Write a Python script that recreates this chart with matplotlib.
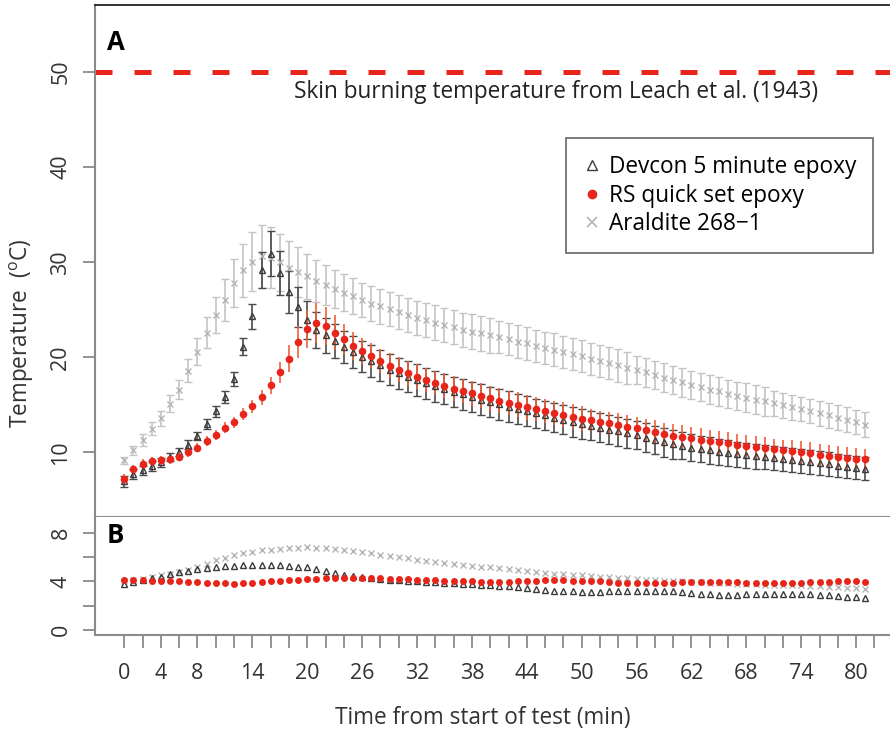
import numpy as np
import matplotlib
matplotlib.use("Agg")
import matplotlib.pyplot as plt
from matplotlib.lines import Line2D

plt.rcParams['font.family'] = ['Open Sans', 'DejaVu Sans']
plt.rcParams['mathtext.fontset'] = 'custom'
plt.rcParams['mathtext.rm'] = 'Open Sans'

# time from start of test (min), one reading per minute
minutes = list(range(0, 82))

# panel A: mean temperature (deg C)
devcon_mean = [6.95, 7.75, 8.1, 8.55, 8.95, 9.5, 10.05, 10.8, 11.7, 13.0,
               14.3, 15.8, 17.7, 21.1, 24.3, 29.2, 30.9, 28.9, 26.9, 25.3,
               23.9, 22.9, 22.3, 21.7, 21.1, 20.55, 20.05, 19.6, 19.15, 18.7,
               18.3, 17.95, 17.6, 17.25, 16.95, 16.65, 16.35, 16.1, 15.8, 15.55,
               15.3, 15.05, 14.8, 14.55, 14.35, 14.1, 13.9, 13.65, 13.45, 13.2,
               13.0, 12.8, 12.6, 12.4, 12.2, 12.0, 11.8, 11.55, 11.3, 11.05,
               10.85, 10.7, 10.5, 10.35, 10.2, 10.05, 9.95, 9.8, 9.7, 9.6,
               9.5, 9.4, 9.3, 9.2, 9.1, 9.0, 8.85, 8.75, 8.6, 8.5,
               8.4, 8.3]
rs_mean = [7.2, 8.2, 8.75, 9.05, 9.15, 9.3, 9.55, 10.0, 10.5, 11.2,
           11.85, 12.6, 13.15, 14.05, 14.85, 15.8, 17.05, 18.4, 19.85, 21.6,
           23.0, 23.6, 23.3, 22.6, 21.9, 21.2, 20.65, 20.15, 19.6, 19.1,
           18.7, 18.3, 17.95, 17.6, 17.3, 17.0, 16.7, 16.45, 16.2, 15.95,
           15.7, 15.45, 15.2, 15.0, 14.75, 14.55, 14.35, 14.15, 13.95, 13.75,
           13.55, 13.4, 13.2, 13.05, 12.9, 12.7, 12.55, 12.35, 12.15, 11.9,
           11.75, 11.65, 11.5, 11.35, 11.2, 11.05, 10.95, 10.8, 10.65, 10.55,
           10.45, 10.3, 10.2, 10.1, 10.0, 9.9, 9.75, 9.65, 9.55, 9.45,
           9.35, 9.25]
araldite_mean = [9.15, 10.2, 11.3, 12.5, 13.6, 15.1, 16.6, 18.6, 20.6, 22.6,
                 24.4, 26.05, 27.8, 29.15, 30.05, 30.6, 30.45, 30.0, 29.4, 28.95,
                 28.5, 28.05, 27.6, 27.2, 26.8, 26.4, 26.0, 25.65, 25.35, 25.05,
                 24.75, 24.45, 24.15, 23.9, 23.65, 23.4, 23.15, 22.9, 22.7, 22.5,
                 22.3, 22.1, 21.9, 21.65, 21.45, 21.2, 21.0, 20.8, 20.55, 20.35,
                 20.1, 19.85, 19.6, 19.4, 19.15, 18.9, 18.65, 18.4, 18.15, 17.85,
                 17.6, 17.35, 17.1, 16.85, 16.6, 16.4, 16.15, 15.95, 15.75, 15.55,
                 15.35, 15.15, 14.95, 14.75, 14.55, 14.35, 14.1, 13.9, 13.65, 13.45,
                 13.2, 12.9]

# panel A: error bar half widths (deg C)
devcon_err = [0.6, 0.55, 0.5, 0.5, 0.45, 0.45, 0.45, 0.45, 0.45, 0.5,
              0.55, 0.6, 0.7, 0.9, 1.3, 1.9, 2.4, 2.3, 2.2, 2.1,
              2.0, 1.9, 1.8, 1.75, 1.7, 1.65, 1.65, 1.65, 1.65, 1.65,
              1.65, 1.65, 1.65, 1.65, 1.65, 1.6, 1.6, 1.6, 1.6, 1.6,
              1.6, 1.6, 1.6, 1.6, 1.6, 1.55, 1.55, 1.55, 1.55, 1.55,
              1.55, 1.55, 1.55, 1.55, 1.55, 1.5, 1.5, 1.5, 1.5, 1.5,
              1.5, 1.4, 1.4, 1.4, 1.4, 1.4, 1.4, 1.3, 1.3, 1.3,
              1.3, 1.3, 1.3, 1.25, 1.25, 1.25, 1.25, 1.25, 1.2, 1.2,
              1.2, 1.2]
rs_err = [0.5, 0.5, 0.5, 0.5, 0.5, 0.5, 0.5, 0.5, 0.5, 0.5,
          0.5, 0.55, 0.6, 0.65, 0.7, 0.8, 0.9, 1.1, 1.4, 1.7,
          2.0, 2.1, 2.0, 1.8, 1.6, 1.5, 1.4, 1.3, 1.3, 1.3,
          1.3, 1.3, 1.3, 1.3, 1.3, 1.3, 1.3, 1.3, 1.3, 1.3,
          1.3, 1.3, 1.3, 1.3, 1.3, 1.3, 1.3, 1.3, 1.3, 1.3,
          1.3, 1.2, 1.2, 1.2, 1.2, 1.2, 1.2, 1.2, 1.2, 1.2,
          1.2, 1.2, 1.2, 1.2, 1.2, 1.2, 1.15, 1.15, 1.15, 1.15,
          1.15, 1.15, 1.15, 1.15, 1.15, 1.15, 1.15, 1.15, 1.15, 1.15,
          1.15, 1.15]
araldite_err = [0.4, 0.5, 0.6, 0.7, 0.8, 0.9, 1.0, 1.2, 1.4, 1.6,
                1.9, 2.2, 2.5, 2.8, 3.1, 3.3, 3.2, 3.0, 2.8, 2.6,
                2.4, 2.2, 2.1, 2.0, 1.95, 1.9, 1.8, 1.8, 1.8, 1.8,
                1.8, 1.8, 1.8, 1.8, 1.8, 1.8, 1.8, 1.8, 1.8, 1.8,
                1.8, 1.7, 1.7, 1.7, 1.7, 1.7, 1.7, 1.7, 1.7, 1.7,
                1.7, 1.7, 1.7, 1.7, 1.7, 1.7, 1.5, 1.5, 1.5, 1.5,
                1.5, 1.5, 1.5, 1.5, 1.5, 1.5, 1.5, 1.5, 1.5, 1.5,
                1.5, 1.3, 1.3, 1.3, 1.3, 1.3, 1.3, 1.3, 1.3, 1.3,
                1.3, 1.3]

# panel B values
devcon_b = [3.8, 3.95, 4.1, 4.25, 4.4, 4.58, 4.75, 4.88, 5.0, 5.1,
            5.2, 5.25, 5.3, 5.33, 5.35, 5.35, 5.35, 5.33, 5.3, 5.23,
            5.15, 5.0, 4.85, 4.7, 4.55, 4.45, 4.35, 4.28, 4.2, 4.15,
            4.1, 4.05, 4.0, 3.98, 3.95, 3.9, 3.85, 3.82, 3.8, 3.75,
            3.7, 3.65, 3.6, 3.52, 3.45, 3.38, 3.3, 3.25, 3.2, 3.18,
            3.15, 3.15, 3.15, 3.18, 3.2, 3.22, 3.25, 3.25, 3.25, 3.22,
            3.2, 3.12, 3.05, 3.0, 2.95, 2.92, 2.9, 2.92, 2.95, 2.98,
            3.0, 3.0, 3.0, 3.0, 3.0, 2.95, 2.9, 2.85, 2.8, 2.75,
            2.7, 2.65]
rs_b = [4.1, 4.1, 4.1, 4.08, 4.05, 4.02, 4.0, 3.98, 3.95, 3.9,
        3.85, 3.84, 3.83, 3.86, 3.9, 3.95, 4.0, 4.05, 4.1, 4.15,
        4.2, 4.22, 4.25, 4.25, 4.25, 4.25, 4.25, 4.25, 4.25, 4.22,
        4.2, 4.18, 4.15, 4.12, 4.1, 4.08, 4.05, 4.02, 4.0, 3.98,
        3.95, 3.96, 3.98, 4.02, 4.05, 4.08, 4.1, 4.1, 4.1, 4.08,
        4.05, 4.02, 4.0, 3.95, 3.9, 3.88, 3.85, 3.85, 3.85, 3.88,
        3.9, 3.92, 3.95, 3.95, 3.95, 3.95, 3.95, 3.92, 3.9, 3.89,
        3.88, 3.88, 3.88, 3.89, 3.9, 3.92, 3.95, 3.98, 4.0, 4.0,
        4.0, 3.98]
araldite_b = [4.0, 4.1, 4.2, 4.35, 4.5, 4.6, 4.75, 4.95, 5.2, 5.45,
              5.75, 5.95, 6.15, 6.3, 6.45, 6.55, 6.6, 6.7, 6.75, 6.78,
              6.8, 6.78, 6.75, 6.68, 6.6, 6.5, 6.4, 6.3, 6.2, 6.1,
              6.0, 5.9, 5.8, 5.7, 5.6, 5.52, 5.45, 5.38, 5.3, 5.22,
              5.15, 5.08, 5.0, 4.92, 4.85, 4.78, 4.7, 4.65, 4.6, 4.55,
              4.5, 4.45, 4.4, 4.35, 4.3, 4.25, 4.2, 4.15, 4.1, 4.08,
              4.05, 4.0, 3.95, 3.92, 3.9, 3.88, 3.85, 3.82, 3.8, 3.78,
              3.75, 3.72, 3.7, 3.7, 3.7, 3.65, 3.6, 3.58, 3.55, 3.5,
              3.45, 3.4]

skin_burn = 50
series_names = ["Devcon 5 minute epoxy", "RS quick set epoxy", "Araldite 268\u22121"]
xtick_labels = [0, 4, 8, 14, 20, 26, 32, 38, 44, 50, 56, 62, 68, 74, 80]

dark = '#3a3a3a'
red = '#e8251b'
red_bar = '#f0603a'
grey = '#b4b4b4'
grey_bar = '#c4c4c4'
axis_grey = '#8a8a8a'
fs = 16.3
tick_fs = 15.5

fig = plt.figure(figsize=(8.9, 7.35), dpi=100)
ax_a = fig.add_axes([95/890, 1-517/735, 795/890, 512/735])
ax_b = fig.add_axes([95/890, 1-635/735, 795/890, 118/735], sharex=ax_a)

# panel A
ax_a.errorbar(minutes, araldite_mean, yerr=araldite_err, fmt='x', ms=5, mew=1,
              color=grey, ecolor=grey_bar, elinewidth=1.2, capsize=3, capthick=1.2)
ax_a.errorbar(minutes, devcon_mean, yerr=devcon_err, fmt='^', ms=5, mew=1, mfc='none',
              color=dark, ecolor='#4a4a4a', elinewidth=1.2, capsize=3, capthick=1.2)
ax_a.errorbar(minutes, rs_mean, yerr=rs_err, fmt='o', ms=5.5, mew=0,
              color=red, ecolor=red_bar, elinewidth=1.2, capsize=3, capthick=1.2)
ax_a.axhline(skin_burn, color=red, lw=3.6, ls=(0, (3.4, 4.4)))
ax_a.text(47.2, 47.9, "Skin burning temperature from Leach et al. (1943)",
          ha='center', va='center', fontsize=fs, color='#222222')
ax_a.text(0.015, 0.927, "A", transform=ax_a.transAxes, fontsize=18.5,
          fontweight='bold', ha='left', va='center')

handles = [Line2D([], [], ls='none', marker='^', mfc='none', mec=dark, ms=7, mew=1),
           Line2D([], [], ls='none', marker='o', color=red, ms=7, mew=0),
           Line2D([], [], ls='none', marker='x', color=grey, ms=7, mew=1.2)]
leg = ax_a.legend(handles, series_names, loc='upper right', bbox_to_anchor=(0.979, 0.740),
                  fontsize=fs, frameon=True, fancybox=False, framealpha=1,
                  edgecolor='#666666', handlelength=0.8, handletextpad=0.35,
                  borderpad=0.75, labelspacing=0.2, borderaxespad=0)
leg.get_frame().set_linewidth(1.2)

ax_a.set_ylim(3.2, 57.05)
ax_a.set_yticks([10, 20, 30, 40, 50])

# panel B
ax_b.plot(minutes, araldite_b, 'x', color=grey, ms=4.5, mew=1)
ax_b.plot(minutes, devcon_b, '^', color=dark, mfc='none', ms=4.5, mew=1)
ax_b.plot(minutes, rs_b, 'o', color=red, ms=5, mew=0)
ax_b.text(0.015, 0.839, "B", transform=ax_b.transAxes, fontsize=18.5,
          fontweight='bold', ha='left', va='center')
ax_b.set_ylim(-0.4, 9.3)
ax_b.set_yticks([0, 2, 4, 6, 8])
ax_b.set_yticklabels(['0', '', '4', '', '8'])

xt = list(range(0, 83, 2))
ax_b.set_xticks(xt)
ax_b.set_xticklabels([str(v) if v in xtick_labels else '' for v in xt])
ax_b.set_xlim(-3.2, 83.7)

for ax in (ax_a, ax_b):
    ax.spines['right'].set_visible(False)
    for s in ('left', 'bottom', 'top'):
        ax.spines[s].set_color(axis_grey)
        ax.spines[s].set_linewidth(1.5)
    ax.tick_params(axis='y', length=9, width=1.3, color=axis_grey, pad=8,
                   labelsize=tick_fs, labelcolor='#333333', labelrotation=90)
    for lab in ax.get_yticklabels():
        lab.set_va('center')
ax_a.spines['top'].set_color('#222222')
ax_a.spines['top'].set_linewidth(1.3)
ax_b.spines['top'].set_visible(False)
ax_a.tick_params(axis='x', bottom=False, labelbottom=False)
ax_b.tick_params(axis='x', length=9, width=1.3, color=axis_grey, pad=11,
                 labelsize=tick_fs, labelcolor='#333333')

fig.text(22/890, 1-333/735, "Temperature  ($^{\\mathrm{o}}$C)", rotation=90,
         ha='center', va='center', fontsize=fs, color='#333333')
fig.text(483/890, 1-718/735, "Time from start of test (min)",
         ha='center', va='center', fontsize=fs, color='#333333')

plt.savefig('out.png', dpi=100)
